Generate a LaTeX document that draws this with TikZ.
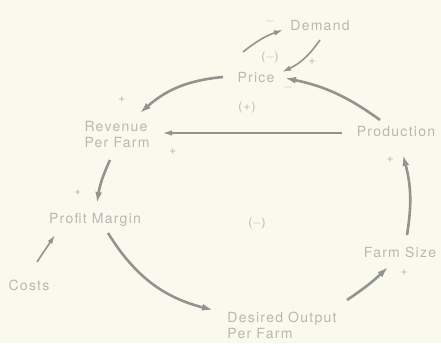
\documentclass[tikz,border=0pt]{standalone}
\usepackage{fontspec}
\setmainfont{TeX Gyre Heros}[LetterSpace=9]
\usetikzlibrary{arrows.meta}
\definecolor{paper}{HTML}{FAF9EE}
\definecolor{ink}{HTML}{B8B8B3}
\definecolor{linegray}{HTML}{939390}

\begin{document}
\begin{tikzpicture}[x=1pt,y=1pt,
  var/.style={text=ink,font=\fontsize{14}{16}\selectfont,inner sep=1pt,align=left},
  sgn/.style={text=ink,font=\fontsize{12}{14}\selectfont,inner sep=0pt},
  arr/.style={-{Latex[length=11pt,width=7pt]},draw=linegray,line width=2.6pt},
  thinarr/.style={-{Latex[length=9pt,width=5.5pt]},draw=linegray,line width=1.6pt}]
\fill[paper] (0,0) rectangle (441,343);
\useasboundingbox (0,0) rectangle (441,343);

% variables
\node[var] (demand) at (320,317) {Demand};
\node[var] (price) at (256,265) {Price};
\node[var] (revenue) at (117,208) {Revenue\\Per Farm};
\node[var] (production) at (396,211) {Production};
\node[var] (profit) at (95,123) {Profit Margin};
\node[var] (costs) at (29,58) {Costs};
\node[var] (desired) at (282,18) {Desired Output\\Per Farm};
\node[var] (farm) at (400,91) {Farm Size};

% links
\draw[thinarr] ([shift={(-13,26)}]price.center) to[bend left=10] ([shift={(-37,-4)}]demand.center);
\draw[thinarr] ([shift={(0,-14)}]demand.center) to[bend left=15] ([shift={(26,6)}]price.center);
\draw[arr] ([shift={(-16,12)}]production.center) to[bend right=12] ([shift={(29,0)}]price.center);
\draw[arr] ([shift={(-33,1)}]price.center) to[bend right=18] ([shift={(23,22)}]revenue.center);
\draw[thinarr,line width=1.2pt] ([shift={(-54,-1)}]production.center) -- ([shift={(46,2)}]revenue.center);
\draw[arr] ([shift={(-7,-25)}]revenue.center) to[bend right=8] ([shift={(2,17)}]profit.center);
\draw[thinarr] ([shift={(8,23)}]costs.center) -- ([shift={(-40,-15)}]profit.center);
\draw[arr] ([shift={(13,-13)}]profit.center) to[bend right=22] ([shift={(-69,15)}]desired.center);
\draw[arr] ([shift={(65,25)}]desired.center) to[bend right=5] ([shift={(-12,-15)}]farm.center);
\draw[arr] ([shift={(7,17)}]farm.center) to[bend right=12] ([shift={(7,-23)}]production.center);

% polarities and loop signs
\node[sgn] (s1) at (270,321) {$-$};
\node[sgn] (s2) at (312,281) {+};
\node[sgn] (s3) at (270,286) {($-$)};
\node[sgn] (s4) at (288,255) {$-$};
\node[sgn] (s5) at (247,236) {(+)};
\node[sgn] (s6) at (122,243) {+};
\node[sgn] (s7) at (173,191) {+};
\node[sgn] (s8) at (78,150) {+};
\node[sgn] (s9) at (257,120) {($-$)};
\node[sgn] (s10) at (404,70) {+};
\node[sgn] (s11) at (390,183) {+};
\end{tikzpicture}
\end{document}
